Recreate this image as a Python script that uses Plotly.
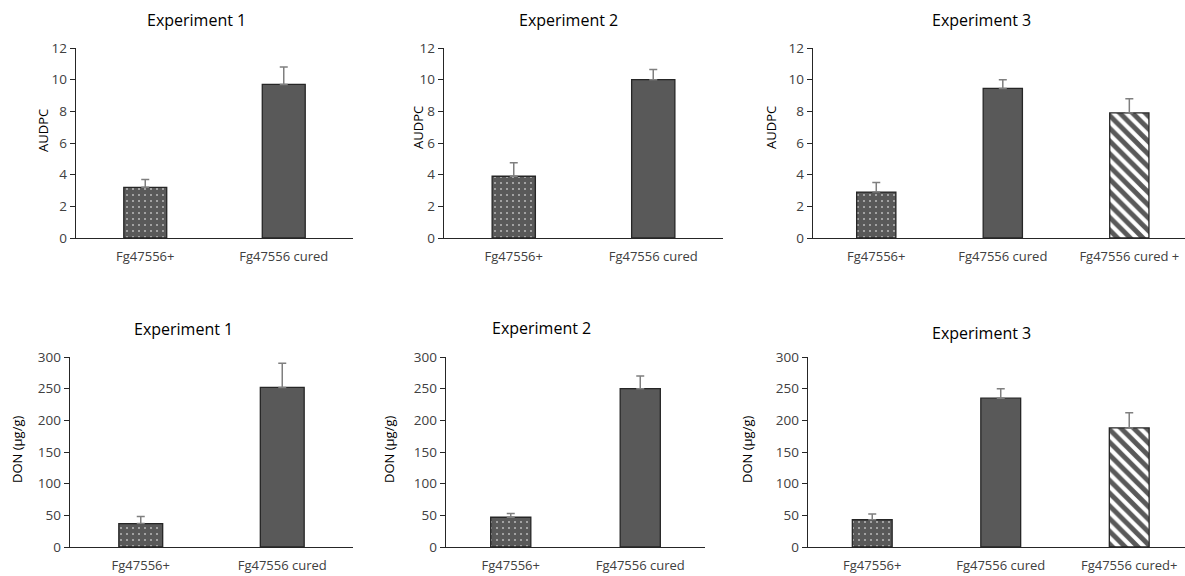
import plotly.graph_objects as go

# ---- data ----
cats_2 = ["Fg47556+", "Fg47556 cured"]
cats_3_top = ["Fg47556+", "Fg47556 cured", "Fg47556 cured +"]
cats_3_bot = ["Fg47556+", "Fg47556 cured", "Fg47556 cured+"]

audpc_exp1 = [3.2, 9.7]
audpc_exp1_err = [0.5, 1.1]
audpc_exp2 = [3.9, 10.0]
audpc_exp2_err = [0.85, 0.65]
audpc_exp3 = [2.9, 9.45, 7.9]
audpc_exp3_err = [0.6, 0.55, 0.9]

don_exp1 = [37, 252]
don_exp1_err = [11, 38]
don_exp2 = [47, 250]
don_exp2_err = [6, 20]
don_exp3 = [43, 235, 188]
don_exp3_err = [9, 15, 24]

titles = ["Experiment 1", "Experiment 2", "Experiment 3",
          "Experiment 1", "Experiment 2", "Experiment 3"]

W, H = 1185, 576
FONT = "Open Sans"
DARK = "#595959"
EDGE = "#262626"
TXT = "#404040"

patterns = {
    0: dict(shape=".", fgcolor="white", bgcolor=DARK, size=6, solidity=0.06, fgopacity=1),
    1: dict(shape=""),
    2: dict(shape="\\", fgcolor=DARK, bgcolor="white", size=9, solidity=0.55, fgopacity=1),
}

panels = [
    # cats, vals, errs, xdom px, ydom px, ymax, dtick, xrange
    (cats_2, audpc_exp1, audpc_exp1_err, (76, 353), (48, 238), 12, 2, [-0.5, 1.5]),
    (cats_2, audpc_exp2, audpc_exp2_err, (444, 723), (48, 238), 12, 2, [-0.5, 1.5]),
    (cats_3_top, audpc_exp3, audpc_exp3_err, (813, 1185), (48, 238), 12, 2, [-0.5, 2.44]),
    (cats_2, don_exp1, don_exp1_err, (70, 353), (357, 547), 300, 50, [-0.5, 1.5]),
    (cats_2, don_exp2, don_exp2_err, (446, 705), (357, 547), 300, 50, [-0.5, 1.5]),
    (cats_3_bot, don_exp3, don_exp3_err, (808, 1185), (357, 547), 300, 50, [-0.5, 2.434]),
]

fig = go.Figure()
layout = {}
for i, (cats, vals, errs, xd, yd, ymax, dt, xr) in enumerate(panels):
    n = i + 1
    xa = "x" if n == 1 else f"x{n}"
    ya = "y" if n == 1 else f"y{n}"
    for j, (c, v, e) in enumerate(zip(cats, vals, errs)):
        fig.add_trace(go.Bar(
            x=[c], y=[v], xaxis=xa, yaxis=ya, width=0.31,
            marker=dict(color=DARK, line=dict(color=EDGE, width=1.3),
                        pattern=patterns[j]),
            error_y=dict(type="data", array=[e], arrayminus=[0], symmetric=False,
                         color="#7f7f7f", thickness=1.5, width=4),
            showlegend=False,
        ))
    xkey = "xaxis" if n == 1 else f"xaxis{n}"
    ykey = "yaxis" if n == 1 else f"yaxis{n}"
    layout[xkey] = dict(
        domain=[xd[0] / W, min(xd[1] / W, 1.0)], anchor=ya, type="category",
        categoryorder="array", categoryarray=cats, range=xr, automargin=False,
        showline=True, linecolor=EDGE, linewidth=1.3, ticks="",
        tickfont=dict(family=FONT, size=13, color=TXT), showgrid=False,
        zeroline=False, ticklabelstandoff=6,
    )
    layout[ykey] = dict(
        domain=[1 - yd[1] / H, 1 - yd[0] / H], anchor=xa, range=[0, ymax],
        dtick=dt, tick0=0, showline=True, linecolor=EDGE, linewidth=1.3,
        ticks="outside", ticklen=5, tickcolor=EDGE, showgrid=False, automargin=False,
        zeroline=False, tickfont=dict(family=FONT, size=13.5, color=TXT),
    )

annotations = []
title_pos = [(196, 20), (568, 20), (981, 20), (183, 329), (541, 328), (981, 333)]
for t, (px, py) in zip(titles, title_pos):
    annotations.append(dict(text=t, x=px / W, y=1 - py / H, xref="paper", yref="paper",
                            showarrow=False, xanchor="center", yanchor="middle",
                            font=dict(family=FONT, size=16, color="black")))

ylab_pos = [("AUDPC", 43, 130), ("AUDPC", 418, 128), ("AUDPC", 771, 128),
            ("DON (µg/g)", 17, 450), ("DON (µg/g)", 389, 450), ("DON (µg/g)", 747, 450)]
for t, px, py in ylab_pos:
    annotations.append(dict(text=t, x=px / W, y=1 - py / H, xref="paper", yref="paper",
                            showarrow=False, textangle=-90, xanchor="center",
                            yanchor="middle",
                            font=dict(family=FONT, size=13, color="black")))

fig.update_layout(
    width=W, height=H, margin=dict(l=0, r=0, t=0, b=0),
    paper_bgcolor="white", plot_bgcolor="white", hovermode=False,
    annotations=annotations, bargap=0, **layout,
)

fig.write_html(
    "out.html",
    config={"displayModeBar": False, "staticPlot": True},
    post_script="document.body.style.margin='0';document.body.style.overflow='hidden';",
)
